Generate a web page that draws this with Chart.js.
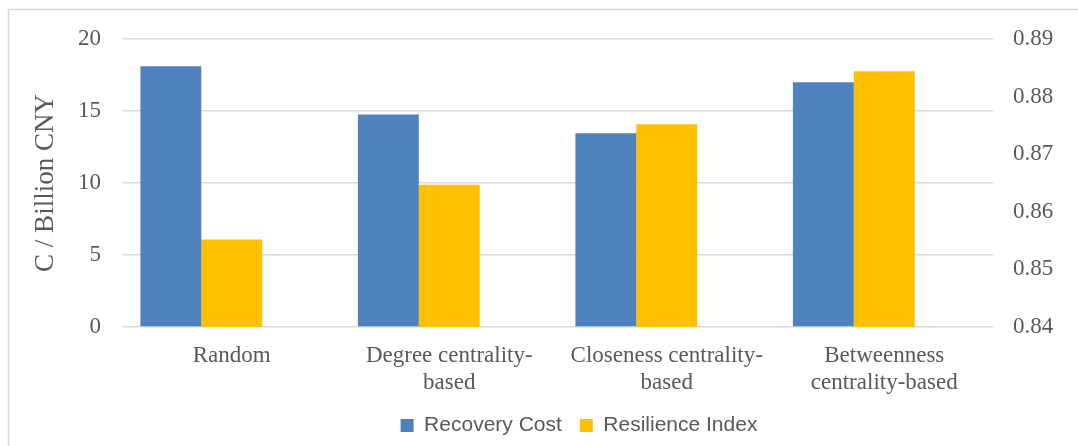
<!DOCTYPE html>
<html>
<head>
<meta charset="utf-8">
<script src="https://cdn.jsdelivr.net/npm/chart.js@4"></script>
<style>
  html, body { margin: 0; padding: 0; background: #fff; }
  #wrap { width: 1078px; height: 446px; position: relative; }
</style>
</head>
<body>
<div id="wrap"><canvas id="chart"></canvas></div>
<script>
// categories and values
var categories = ['Random', ['Degree centrality-', 'based'], ['Closeness centrality-', 'based'], ['Betweenness', 'centrality-based']];
var recoveryCost = [18.1, 14.75, 13.45, 17.0];
var resilienceIndex = [0.8552, 0.8647, 0.8752, 0.8844];
var leftTicks = [0, 5, 10, 15, 20];
var rightTicks = [0.84, 0.85, 0.86, 0.87, 0.88, 0.89];

var textColor = '#595959';
var gridColor = '#D9D9D9';
var serif = '"Liberation Serif", "Times New Roman", serif';

// light frame round the chart, as in the original export
var framePlugin = {
    id: 'frame',
    beforeDraw: function (chart) {
        var ctx = chart.ctx;
        ctx.save();
        ctx.strokeStyle = gridColor;
        ctx.lineWidth = 1.5;
        ctx.beginPath();
        ctx.moveTo(8.5, chart.height);
        ctx.lineTo(8.5, 9.5);
        ctx.lineTo(chart.width, 9.5);
        ctx.stroke();
        ctx.restore();
    }
};

// the source legend sits a bit right of the page centre
var legendShift = {
    id: 'legendShift',
    afterLayout: function (chart) {
        if (chart.legend) {
            chart.legend.left += 40;
            chart.legend.right += 40;
        }
    }
};

var ctx = document.getElementById('chart');
new Chart(ctx, {
    type: 'bar',
    data: {
        labels: categories,
        datasets: [{
            label: 'Recovery Cost',
            data: recoveryCost,
            backgroundColor: '#4F81BD',
            yAxisID: 'y'
        }, {
            label: 'Resilience Index',
            data: resilienceIndex,
            backgroundColor: '#FFC000',
            yAxisID: 'y1'
        }, {
            // empty slot that keeps the pair off-centre like the source
            label: '',
            data: [null, null, null, null],
            backgroundColor: 'rgba(0,0,0,0)',
            yAxisID: 'y'
        }]
    },
    options: {
        responsive: true,
        maintainAspectRatio: false,
        animation: false,
        layout: { padding: { top: 39, left: 0, right: 0, bottom: 0 } },
        datasets: {
            bar: { categoryPercentage: 0.84, barPercentage: 1.0 }
        },
        plugins: {
            tooltip: { enabled: false },
            legend: {
                position: 'bottom',
                labels: {
                    color: textColor,
                    font: { family: '"Liberation Sans", Arial, sans-serif', size: 21 },
                    boxWidth: 13,
                    boxHeight: 13,
                    padding: 18,
                    filter: function (item) { return item.text !== ''; }
                }
            }
        },
        scales: {
            x: {
                grid: { display: false, drawTicks: false },
                border: { display: false },
                ticks: {
                    color: textColor,
                    font: { family: serif, size: 23, lineHeight: 1.15 },
                    padding: 16,
                    maxRotation: 0,
                    autoSkip: false
                },
                afterFit: function (scale) { scale.height = 70; }
            },
            y: {
                position: 'left',
                min: 0,
                max: 20,
                afterBuildTicks: function (scale) {
                    scale.ticks = leftTicks.map(function (v) { return { value: v }; });
                },
                grid: { color: gridColor, lineWidth: 1.5, drawTicks: false },
                border: { display: false },
                ticks: {
                    color: textColor,
                    font: { family: serif, size: 23 },
                    padding: 22
                },
                title: {
                    display: true,
                    text: 'C / Billion CNY',
                    color: textColor,
                    font: { family: serif, size: 27 },
                    padding: { top: 30, bottom: 0 }
                },
                afterFit: function (scale) { scale.width = 123; }
            },
            y1: {
                position: 'right',
                min: 0.84,
                max: 0.89,
                afterBuildTicks: function (scale) {
                    scale.ticks = rightTicks.map(function (v) { return { value: v }; });
                },
                grid: { display: false, drawTicks: false },
                border: { display: false },
                ticks: {
                    color: textColor,
                    font: { family: serif, size: 23 },
                    padding: 20,
                    callback: function (v) { return Number(v).toFixed(2); }
                },
                afterFit: function (scale) { scale.width = 85; }
            }
        }
    },
    plugins: [framePlugin, legendShift]
});
</script>
</body>
</html>
